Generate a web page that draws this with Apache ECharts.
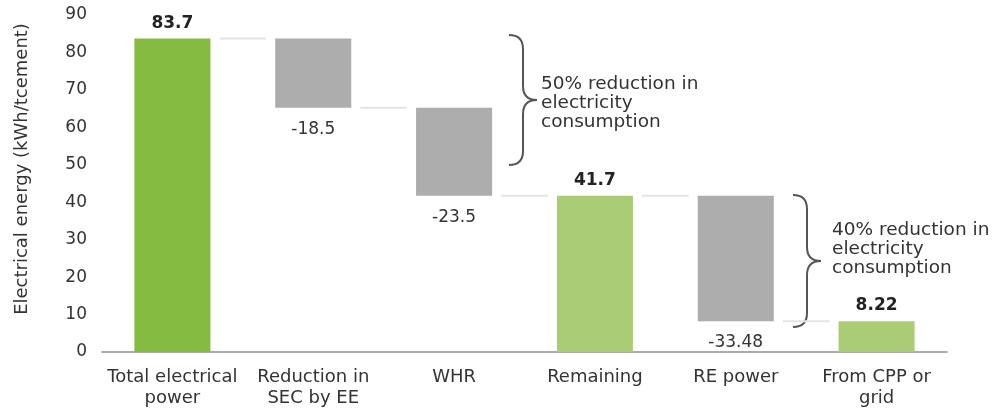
<!DOCTYPE html>
<html>
<head>
<meta charset="utf-8">
<script src="https://cdn.jsdelivr.net/npm/echarts@6/dist/echarts.min.js"></script>
<style>
  html, body { margin: 0; padding: 0; background: #fff; }
  #chart { width: 992px; height: 410px; }
</style>
</head>
<body>
<div id="chart"></div>
<script>
// 类目与数值
var categories = ['Total electrical\npower', 'Reduction in\nSEC by EE', 'WHR', 'Remaining', 'RE power', 'From CPP or\ngrid'];
var changes = [83.7, -18.5, -23.5, 41.7, -33.48, 8.22];
var isTotal = [true, false, false, true, false, true];
var yMax = 90;
var yStep = 10;

var barColors = ['#85bb40', '#adadad', '#adadad', '#a9cc74', '#adadad', '#a9cc74'];
var FONT = '"DejaVu Sans", sans-serif';

// 计算瀑布图的底座、高度和每步的水平线
var baseData = [];
var barData = [];
var levels = [];
var level = 0;
changes.forEach(function (v, i) {
    if (isTotal[i]) {
        baseData.push(0);
        level = v;
        barData.push({
            value: v,
            itemStyle: { color: barColors[i] },
            label: { position: 'top', distance: 7, fontWeight: 'bold', color: '#222', formatter: String(v) }
        });
    } else {
        level = +(level + v).toFixed(2);
        baseData.push(level);
        barData.push({
            value: -v,
            itemStyle: { color: barColors[i] },
            label: { position: 'bottom', distance: 13, fontWeight: 'normal', color: '#333', formatter: String(v) }
        });
    }
    levels.push(level);
});

// 连接线数据（每根柱子到下一根）
var connectorData = [];
for (var i = 0; i < levels.length - 1; i++) {
    connectorData.push([i, levels[i]]);
}

var myChart = echarts.init(document.getElementById('chart'));

myChart.setOption({
    animation: false,
    grid: { left: 102, right: 45, top: 15, bottom: 58, containLabel: false },
    xAxis: {
        type: 'category',
        data: categories,
        axisLine: { lineStyle: { color: '#ababab', width: 2 } },
        axisTick: { show: false },
        axisLabel: { interval: 0, margin: 15, fontSize: 18, lineHeight: 21, color: '#333', fontFamily: FONT }
    },
    yAxis: {
        type: 'value',
        min: 0,
        max: yMax,
        interval: yStep,
        axisLine: { show: false },
        axisTick: { show: false },
        splitLine: { show: false },
        axisLabel: { margin: 15, fontSize: 17, color: '#333', fontFamily: FONT }
    },
    series: [
        {
            name: 'base',
            type: 'bar',
            stack: 'wf',
            barWidth: '54%',
            itemStyle: { color: 'transparent' },
            silent: true,
            data: baseData
        },
        {
            name: 'value',
            type: 'bar',
            stack: 'wf',
            barWidth: '54%',
            label: { show: true, fontSize: 17, fontFamily: FONT },
            data: barData
        },
        {
            name: 'connector',
            type: 'custom',
            silent: true,
            renderItem: function (params, api) {
                var p = api.coord([api.value(0), api.value(1)]);
                var band = api.size([1, 0])[0];
                return {
                    type: 'line',
                    shape: { x1: p[0] + band * 0.335, y1: p[1], x2: p[0] + band * 0.665, y2: p[1] },
                    style: { stroke: '#e4e4e4', lineWidth: 2 }
                };
            },
            data: connectorData,
            z: 1
        }
    ]
});

// 花括号：由曲线和直线组成
function brace(x0, y0, y1, w) {
    var xs = x0 + w / 2, xt = x0 + w, ym = (y0 + y1) / 2, r = 14;
    var st = { fill: 'none', stroke: '#555', lineWidth: 2 };
    return [
        { type: 'bezierCurve', shape: { x1: x0, y1: y0, cpx1: xs, cpy1: y0, x2: xs, y2: y0 + r }, style: st },
        { type: 'line', shape: { x1: xs, y1: y0 + r, x2: xs, y2: ym - r }, style: st },
        { type: 'bezierCurve', shape: { x1: xs, y1: ym - r, cpx1: xs, cpy1: ym, x2: xt, y2: ym }, style: st },
        { type: 'bezierCurve', shape: { x1: xt, y1: ym, cpx1: xs, cpy1: ym, x2: xs, y2: ym + r }, style: st },
        { type: 'line', shape: { x1: xs, y1: ym + r, x2: xs, y2: y1 - r }, style: st },
        { type: 'bezierCurve', shape: { x1: xs, y1: y1 - r, cpx1: xs, cpy1: y1, x2: x0, y2: y1 }, style: st }
    ];
}

var graphics = [
    {
        type: 'text', x: 22, y: 169, rotation: Math.PI / 2,
        style: { text: 'Electrical energy (kWh/tcement)', fontSize: 18, fill: '#333', fontFamily: FONT, align: 'center', verticalAlign: 'middle' }
    },
    {
        type: 'text', x: 541, y: 75,
        style: { text: '50% reduction in\nelectricity\nconsumption', fontSize: 18.5, lineHeight: 19, fill: '#333', fontFamily: FONT, verticalAlign: 'top' }
    },
    {
        type: 'text', x: 832, y: 221,
        style: { text: '40% reduction in\nelectricity\nconsumption', fontSize: 18.5, lineHeight: 19, fill: '#333', fontFamily: FONT, verticalAlign: 'top' }
    }
].concat(brace(509, 35, 165, 28), brace(793, 195, 327, 28));

myChart.setOption({ graphic: graphics });
</script>
</body>
</html>
